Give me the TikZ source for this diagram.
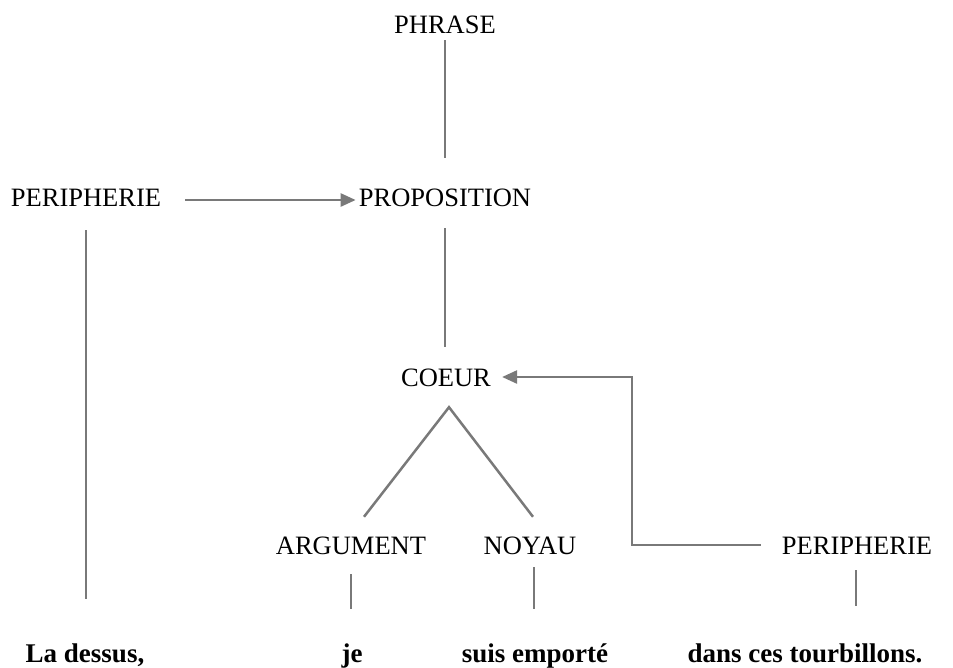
\documentclass[tikz,border=0pt]{standalone}
\usepackage{fontspec}
\setmainfont{Liberation Serif}
\usetikzlibrary{arrows.meta,calc}
\begin{document}
\begin{tikzpicture}[x=1pt,y=-1pt,
  lbl/.style={inner sep=0pt,text height=18pt,text depth=0pt,anchor=base,
    font=\fontsize{26.5}{30}\selectfont},
  word/.style={inner sep=0pt,text height=19pt,text depth=0pt,anchor=base,
    font=\fontsize{27}{30}\selectfont\bfseries},
  link/.style={draw=gray!95!black,line width=2.5pt},
  arr/.style={link,-{Triangle[length=15pt,width=13pt]}}]
\useasboundingbox (0,0) rectangle (953,667);
% category labels
\node[lbl] (phrase) at (445,33) {PHRASE};
\node[lbl] (perL) at (86,206) {PERIPHERIE};
\node[lbl] (prop) at (445,206) {PROPOSITION};
\node[lbl] (coeur) at (446,386) {COEUR};
\node[lbl] (arg) at (351,554) {ARGUMENT};
\node[lbl] (noyau) at (530,554) {NOYAU};
\node[lbl] (perR) at (857,554) {PERIPHERIE};
% sentence words
\node[word] (la) at (85,662) {La dessus,};
\node[word] (je) at (352,662) {je};
\node[word] (suis) at (535,662) {suis emporté};
\node[word] (dans) at (805,662) {dans ces tourbillons.};
% tree connectors
\draw[link] ($(phrase.south)+(0,7)$) -- ($(prop.north)+(0,-30)$);
\draw[arr] ([xshift=24pt,yshift=-3pt]perL.east) -- ([xshift=-3pt,yshift=-3pt]prop.west);
\draw[link] ($(perL.south)+(0,24)$) -- ($(la.north)+(1,-44)$);
\draw[link] ($(prop.south)+(0,22)$) -- ($(coeur.north)+(-1,-21)$);
\draw[link] ($(arg.north)+(13,-19)$) -- ($(coeur.south)+(3,21)$) -- ($(noyau.north)+(3,-19)$);
\draw[arr] ([xshift=-21pt]perR.west) -| ($(coeur.east)+(141,0)$) -- ([xshift=11pt]coeur.east);
\draw[link] ($(arg.south)+(0,20)$) -- ($(je.north)+(-1,-34)$);
\draw[link] ($(noyau.south)+(4,13)$) -- ($(suis.north)+(-1,-34)$);
\draw[link] ($(perR.south)+(-1,16)$) -- ($(perR.south)+(-1,52)$);
\end{tikzpicture}
\end{document}
